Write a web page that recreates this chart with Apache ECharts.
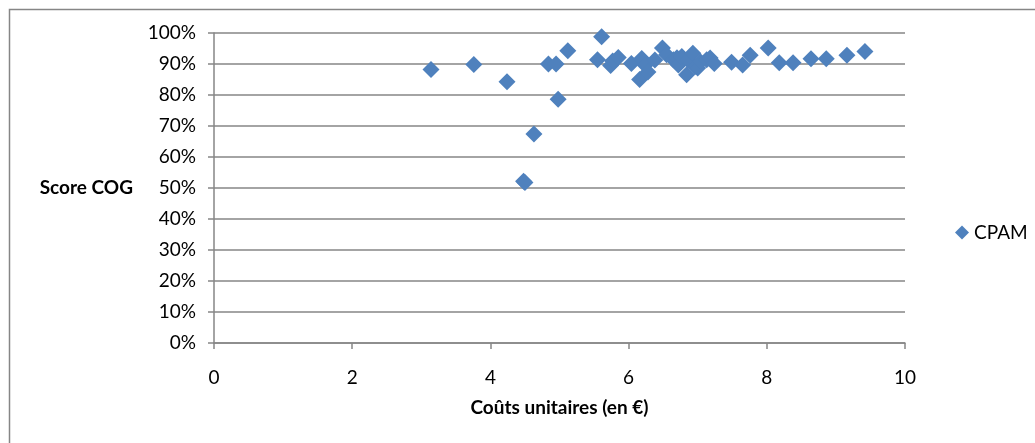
<!DOCTYPE html>
<html>
<head>
<meta charset="utf-8">
<script src="https://cdn.jsdelivr.net/npm/echarts@6/dist/echarts.min.js"></script>
<style>
html,body{margin:0;padding:0;background:#fff;}
#chart{width:1035px;height:443px;}
</style>
</head>
<body>
<div id="chart"></div>
<script>
// Coûts unitaires (en €)
const costs = [3.14, 3.76, 4.24, 4.48, 4.50, 4.63, 4.84, 4.95, 4.98, 5.12,
  5.55, 5.61, 5.74, 5.77, 5.85, 6.04, 6.16, 6.19, 6.24, 6.28,
  6.38, 6.49, 6.55, 6.65, 6.70, 6.72, 6.77, 6.84, 6.86, 6.93,
  6.96, 7.00, 7.04, 7.13, 7.18, 7.24, 7.49, 7.65, 7.76, 8.02,
  8.18, 8.38, 8.64, 8.86, 9.16, 9.42];
// Score COG (%)
const scores = [88.2, 89.8, 84.3, 52.2, 51.8, 67.4, 90.0, 90.0, 78.6, 94.3,
  91.4, 98.8, 89.5, 91.0, 92.1, 90.2, 85.0, 91.8, 89.6, 87.4,
  91.3, 95.2, 93.0, 91.4, 92.0, 89.7, 92.4, 86.5, 91.3, 93.5,
  89.1, 88.7, 90.7, 91.4, 91.9, 90.2, 90.6, 89.7, 92.8, 95.2,
  90.4, 90.4, 91.7, 91.7, 92.8, 94.0];
const seriesName = 'CPAM';
const xTitle = 'Coûts unitaires (en €)';
const yTitle = 'Score COG';

const data = costs.map((c, i) => [c, scores[i] / 100]);
const FONT = 'Lato';
const GRAY = '#868686';

const chart = echarts.init(document.getElementById('chart'), null, {renderer: 'canvas'});
chart.setOption({
  animation: false,
  backgroundColor: '#fff',
  textStyle: {fontFamily: FONT},
  graphic: [{
    type: 'rect', silent: true, z: -1,
    shape: {x: 9.5, y: 9.5, width: 1040, height: 450},
    style: {fill: 'none', stroke: GRAY, lineWidth: 1.5}
  }],
  grid: {left: 214, right: 130, top: 33, bottom: 100, containLabel: false},
  legend: {
    data: [{name: seriesName, icon: 'diamond'}],
    left: 950, top: 218,
    itemWidth: 14, itemHeight: 14, itemGap: 6,
    textStyle: {fontFamily: FONT, fontSize: 19, color: '#000'}
  },
  xAxis: {
    type: 'value', min: 0, max: 10, interval: 2,
    name: xTitle, nameLocation: 'middle', nameGap: 55,
    nameTextStyle: {fontFamily: FONT, fontWeight: 'bold', fontSize: 19, color: '#000'},
    axisLine: {show: true, lineStyle: {color: GRAY, width: 1.5}},
    axisTick: {show: true, length: 6, lineStyle: {color: GRAY, width: 1.5}},
    axisLabel: {margin: 25, fontSize: 19, color: '#000', fontFamily: FONT},
    splitLine: {show: false}
  },
  yAxis: {
    type: 'value', min: 0, max: 1, interval: 0.1,
    name: yTitle, nameLocation: 'middle', nameGap: 81, nameRotate: 0,
    nameTextStyle: {fontFamily: FONT, fontWeight: 'bold', fontSize: 19, color: '#000', align: 'right'},
    axisLine: {show: true, lineStyle: {color: GRAY, width: 1.5}},
    axisTick: {show: true, length: 6, lineStyle: {color: GRAY, width: 1.5}},
    axisLabel: {margin: 18, fontSize: 19, color: '#000', fontFamily: FONT,
      formatter: v => Math.round(v * 100) + '%'},
    splitLine: {show: true, lineStyle: {color: GRAY, width: 1.5}}
  },
  series: [{
    name: seriesName, type: 'scatter', symbol: 'diamond', symbolSize: 17,
    itemStyle: {color: '#4F81BD', opacity: 1},
    data: data
  }]
});
</script>
</body>
</html>
